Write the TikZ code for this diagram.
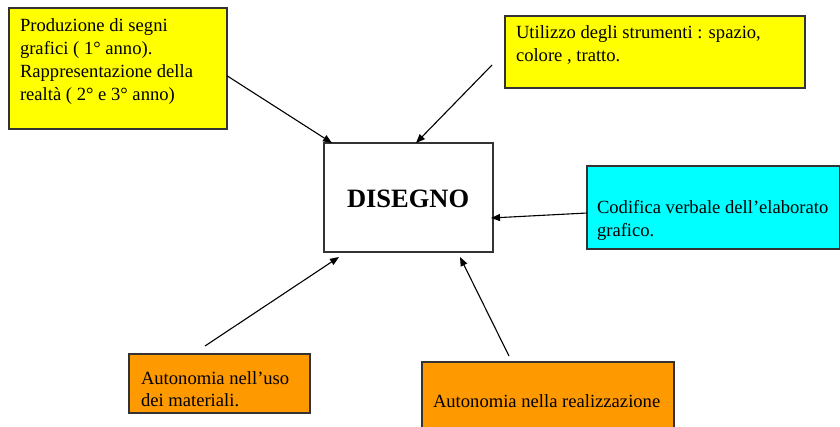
\documentclass[tikz,border=0pt]{standalone}
\usepackage{fontspec}
\setmainfont{Liberation Serif}
\usetikzlibrary{arrows.meta,calc}
\definecolor{boxyellow}{HTML}{FFFF00}
\definecolor{boxcyan}{HTML}{00FFFF}
\definecolor{boxorange}{HTML}{FF9900}
\definecolor{edgegray}{HTML}{333333}
\tikzset{
  box/.style={draw=edgegray, line width=1.3pt, rectangle, inner sep=0pt, outer sep=0pt, anchor=north west},
  txt/.style={anchor=base west, inner sep=0pt, outer sep=0pt, font=\fontsize{18.6}{23}\selectfont},
  conn/.style={line width=1.1pt, -{Triangle[length=9pt,width=7pt]}},
}
\newcommand{\mylines}[1]{\begin{tabular}[t]{@{}l@{}}#1\end{tabular}}
\begin{document}
\begin{tikzpicture}[x=1pt,y=-1pt]
\useasboundingbox (0,0) rectangle (840,426);
\clip (0,0) rectangle (840,426);
% boxes
\node[box, fill=boxyellow, minimum width=218pt, minimum height=121pt] (b1) at (9,8) {};
\node[box, fill=boxyellow, minimum width=300pt, minimum height=72pt] (b2) at (505,16) {};
\node[box, fill=white, minimum width=169pt, minimum height=109pt] (c) at (324,143) {};
\node[box, fill=boxcyan, minimum width=253pt, minimum height=83pt] (cy) at (587,166) {};
\node[box, fill=boxorange, minimum width=181pt, minimum height=59pt] (o1) at (129,354) {};
\node[box, fill=boxorange, minimum width=252pt, minimum height=72pt] (o2) at (422,362) {};
% texts
\node[txt] (t1) at (20,31.5) {\mylines{Produzione di segni\\grafici ( 1° anno).\\Rappresentazione della\\realtà ( 2° e 3° anno)}};
\node[txt] (t2) at (516,38.5) {\mylines{Utilizzo degli strumenti : spazio,\\colore , tratto.}};
\node[txt, font=\bfseries\fontsize{26.5}{30}\selectfont] (tc) at (347,207) {DISEGNO};
\node[txt] (t3) at (597,213) {\mylines{Codifica verbale dell’elaborato\\grafico.}};
\node[txt, font=\fontsize{18.6}{21.5}\selectfont] (t4) at (141,384.5) {\mylines{Autonomia nell’uso\\dei materiali.}};
\node[txt] (t5) at (433,407) {Autonomia nella realizzazione};
% connector free ends
\coordinate (s2) at ($(b2.north west)+(-13,49)$);
\coordinate (s3) at ($(cy.north west)+(0,47)$);
\coordinate (s4) at ($(o1.north west)+(76,-8)$);
\coordinate (s5) at ($(o2.north west)+(87,-6)$);
% connectors
\draw[conn] ($(b1.north east)!0.56!(b1.south east)$) -- ($(c.north west)+(8,0)$);
\draw[conn] (s2) -- ($(c.north west)+(92,0)$);
\draw[conn] (s3) -- ($(c.north east)+(-2,75)$);
\draw[conn] (s4) -- ($(c.south west)+(15,5)$);
\draw[conn] (s5) -- ($(c.south west)+(136,5)$);
\end{tikzpicture}
\end{document}
